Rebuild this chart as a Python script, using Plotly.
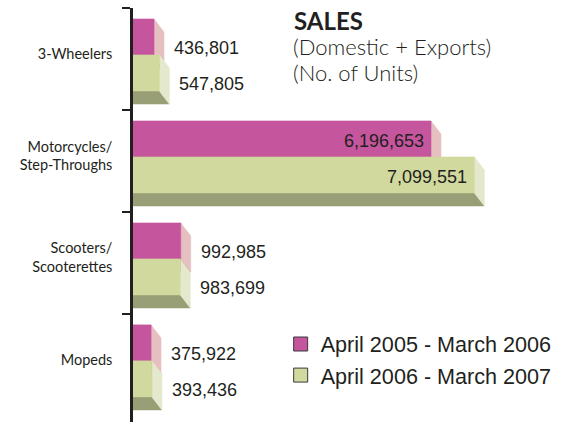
import plotly.graph_objects as go

# Sales by segment (number of units), domestic + exports
categories = ["3-Wheelers", "Motorcycles/<br>Step-Throughs", "Scooters/<br>Scooterettes", "Mopeds"]
sales_2005_06 = [436801, 6196653, 992985, 375922]
sales_2006_07 = [547805, 7099551, 983699, 393436]
period_labels = ["April 2005 - March 2006", "April 2006 - March 2007"]

# styling
X_MAX = 8.9e6
BAR_H = 36 / 102          # bar thickness in category units
DEPTH_X = 2.07e5          # extrusion depth along the value axis
DEPTH_Y = 13 / 102        # extrusion depth along the category axis
TOP_OFFSET = -0.5 + 11 / 102

series_styles = [
    dict(front="#c5559d", side="#e6bfc1", bottom="#6b2a1c"),
    dict(front="#d1d99f", side="#e4e8cc", bottom="#989e75"),
]
TEXT = "#231f20"

fig = go.Figure()


def poly(xs, ys, color):
    fig.add_trace(go.Scatter(
        x=xs + [xs[0]], y=ys + [ys[0]], mode="lines", fill="toself",
        fillcolor=color, line=dict(width=0.6, color=color), hoverinfo="skip", showlegend=False,
    ))


for s, values in enumerate([sales_2005_06, sales_2006_07]):
    st = series_styles[s]
    for i, v in enumerate(values):
        top = i + TOP_OFFSET + s * BAR_H
        bot = top + BAR_H
        # bottom face
        poly([0, v, v + DEPTH_X, 0], [bot, bot, bot + DEPTH_Y, bot + DEPTH_Y], st["bottom"])
        # right-hand side face
        poly([v, v + DEPTH_X, v + DEPTH_X, v], [top, top + DEPTH_Y, bot + DEPTH_Y, bot], st["side"])
        # front face
        poly([0, v, v, 0], [top, top, bot, bot], st["front"])

# value labels
annotations = []
for s, values in enumerate([sales_2005_06, sales_2006_07]):
    for i, v in enumerate(values):
        centre = i + TOP_OFFSET + s * BAR_H + BAR_H / 2
        txt = f"{v:,}"
        if v > 3e6:
            annotations.append(dict(x=v, y=centre + 0.02, text=txt, xanchor="right",
                                    yanchor="middle", xshift=-5, showarrow=False,
                                    font=dict(family="Liberation Sans", size=18, color=TEXT)))
        else:
            annotations.append(dict(x=v + DEPTH_X, y=centre + 0.11, text=txt, xanchor="left",
                                    yanchor="middle", xshift=8, showarrow=False,
                                    font=dict(family="Liberation Sans", size=18, color=TEXT)))

# title block
annotations += [
    dict(xref="paper", yref="paper", x=0.372, y=0.971, text="<b>SALES</b>", xanchor="left",
         yanchor="middle", showarrow=False, font=dict(family="Lato", size=24, color=TEXT)),
    dict(xref="paper", yref="paper", x=0.370, y=0.906, text="(Domestic + Exports)", xanchor="left",
         yanchor="middle", showarrow=False,
         font=dict(family="Lato", size=22, weight=300, color=TEXT)),
    dict(xref="paper", yref="paper", x=0.370, y=0.843, text="(No. of Units)", xanchor="left",
         yanchor="middle", showarrow=False,
         font=dict(family="Lato", size=22, weight=300, color=TEXT)),
]

# legend entries
for s, name in enumerate(period_labels):
    fig.add_trace(go.Scatter(
        x=[None], y=[None], mode="markers", name=name,
        marker=dict(symbol="square", size=14, color=series_styles[s]["front"],
                    line=dict(color="#3a3a3a", width=1)),
    ))

fig.update_layout(
    width=561, height=422,
    margin=dict(l=133, r=0, t=8, b=0),
    paper_bgcolor="white", plot_bgcolor="white",
    showlegend=True,
    legend=dict(x=0.345, y=0.238, xanchor="left", yanchor="top", bgcolor="rgba(0,0,0,0)",
                font=dict(family="Liberation Sans", size=21.6, color=TEXT),
                tracegroupgap=0),
    annotations=annotations,
    xaxis=dict(range=[0, X_MAX], visible=False, fixedrange=True),
    yaxis=dict(
        range=[3.56, -0.5],
        tickmode="array",
        tickvals=[i - 0.05 for i in range(len(categories))],
        ticktext=categories,
        ticks="",
        ticklabelstandoff=15,
        tickfont=dict(family="Lato", size=14.5, color=TEXT),
        showline=True, linecolor=TEXT, linewidth=2.5,
        showgrid=False, zeroline=False,
        minor=dict(tickmode="array", tickvals=[-0.5, 0.5, 1.5, 2.5], ticks="outside",
                   ticklen=8, tickwidth=2, tickcolor=TEXT, showgrid=False),
        fixedrange=True,
    ),
)

fig.write_html("out.html")
